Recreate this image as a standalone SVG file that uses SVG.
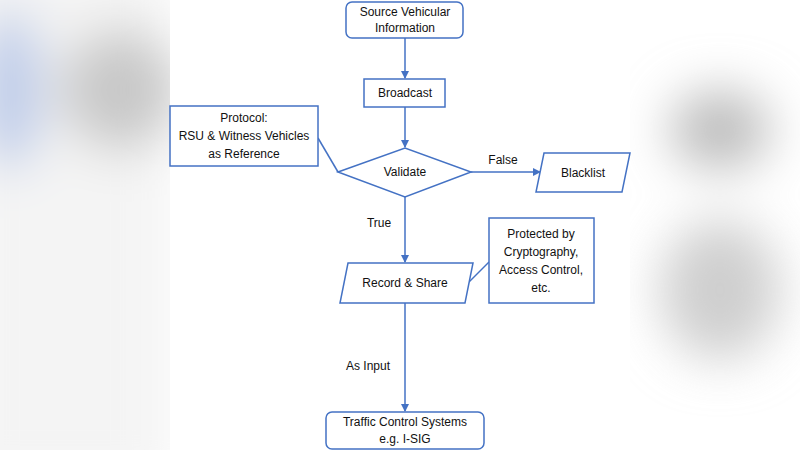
<svg xmlns="http://www.w3.org/2000/svg" width="800" height="450" viewBox="0 0 800 450">
<defs>
<filter id="blur" x="-50%" y="-50%" width="200%" height="200%"><feGaussianBlur stdDeviation="25"/></filter>
<marker id="arr" markerWidth="8" markerHeight="8" refX="7" refY="4" orient="auto" markerUnits="userSpaceOnUse"><path d="M0,0 L8,4 L0,8 z" fill="#4472c4"/></marker>
</defs>
<style>
.s{fill:#fff;stroke:#4472c4;stroke-width:1.5}
.c{fill:none;stroke:#4472c4;stroke-width:1.5}
text{font-family:"Liberation Sans",Arial,sans-serif;font-size:12px;fill:#111;text-anchor:middle}
</style>
<rect width="800" height="450" fill="#fff"/>
<g filter="url(#blur)">
<rect x="-40" y="-40" width="210" height="530" fill="#f4f4f4"/>
<ellipse cx="120" cy="90" rx="60" ry="60" fill="#c8c8c8"/>
<ellipse cx="10" cy="90" rx="30" ry="80" fill="#b8c8e8"/>
<ellipse cx="720" cy="130" rx="50" ry="40" fill="#bdbdbd"/>
<ellipse cx="720" cy="290" rx="60" ry="70" fill="#cfcfcf"/>
</g>
<rect x="170" y="0" width="460" height="450" fill="#fff"/>
<g id="connectors">
<line class="c" x1="405" y1="38" x2="405" y2="78" marker-end="url(#arr)"/>
<line class="c" x1="405" y1="107" x2="405" y2="147" marker-end="url(#arr)"/>
<line class="c" x1="471" y1="172" x2="540" y2="172" marker-end="url(#arr)"/>
<line class="c" x1="405" y1="197" x2="405" y2="262" marker-end="url(#arr)"/>
<line class="c" x1="405" y1="303" x2="405" y2="411" marker-end="url(#arr)"/>
<line class="c" x1="318" y1="138" x2="338" y2="172"/>
<line class="c" x1="469" y1="282" x2="489" y2="262"/>
<text x="503" y="164">False</text>
<text x="379" y="227">True</text>
<text x="368" y="370">As Input</text>
</g>
<g id="source"><rect class="s" x="346" y="2" width="117" height="36" rx="6"/><text x="405" y="16">Source Vehicular</text><text x="405" y="32">Information</text></g>
<g id="broadcast"><rect class="s" x="364" y="79" width="81" height="28"/><text x="405" y="97">Broadcast</text></g>
<g id="protocol"><rect class="s" x="170" y="106" width="148" height="60"/><text x="244" y="122">Protocol:</text><text x="244" y="140">RSU &amp; Witness Vehicles</text><text x="244" y="158">as Reference</text></g>
<g id="validate"><polygon class="s" points="338,172 405,148 471,172 405,197"/><text x="405" y="176">Validate</text></g>
<g id="blacklist"><polygon class="s" points="544,153 630,153 622,192 536,192"/><text x="583" y="177">Blacklist</text></g>
<g id="record"><polygon class="s" points="348,263 473,263 465,303 340,303"/><text x="405" y="287">Record &amp; Share</text></g>
<g id="protected"><rect class="s" x="489" y="218" width="105" height="85"/><text x="541" y="238">Protected by</text><text x="541" y="256">Cryptography,</text><text x="541" y="274">Access Control,</text><text x="541" y="292">etc.</text></g>
<g id="traffic"><rect class="s" x="326" y="412" width="158" height="37" rx="6"/><text x="405" y="426">Traffic Control Systems</text><text x="405" y="443">e.g. I-SIG</text></g>
</svg>
